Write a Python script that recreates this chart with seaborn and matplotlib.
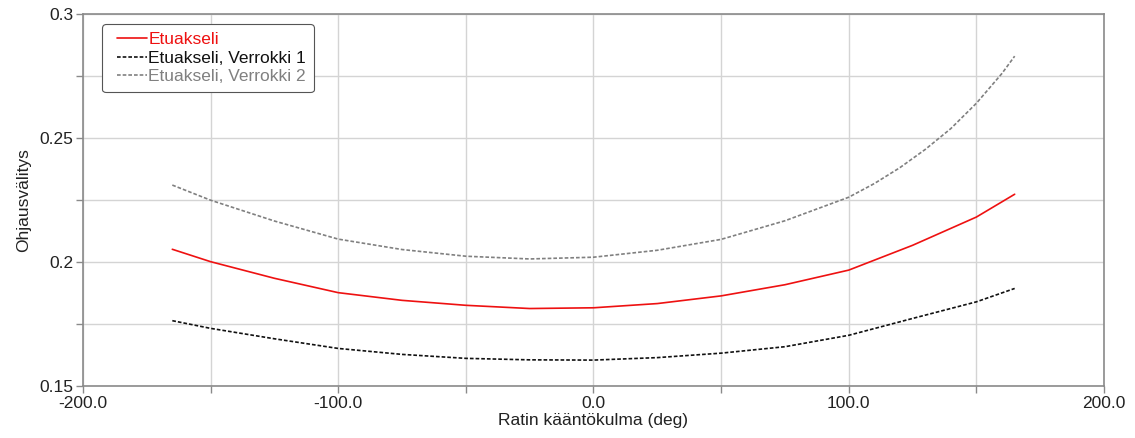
import numpy as np
import pandas as pd
import matplotlib
matplotlib.use("Agg")
import matplotlib.pyplot as plt
import seaborn as sns
from matplotlib.ticker import MultipleLocator, FuncFormatter
from matplotlib.legend_handler import HandlerLine2D

# steering wheel angle (deg) and steering ratio
angle = [-165, -150, -125, -100, -75, -50, -25, 0, 25, 50, 75, 100, 125, 150, 165]
front_axle = [0.2051, 0.2001, 0.1934, 0.1876, 0.1845, 0.1825, 0.1812, 0.1815,
              0.1832, 0.1863, 0.1908, 0.1967, 0.2067, 0.2181, 0.2273]
ref_1 = [0.1763, 0.1732, 0.1690, 0.1651, 0.1627, 0.1611, 0.1605, 0.1604,
         0.1614, 0.1632, 0.1658, 0.1704, 0.1772, 0.1839, 0.1893]
# second reference bends up sharply on the right, so it was read more densely there
angle_2 = [-165, -150, -125, -100, -75, -50, -25, 0, 25, 50, 75, 100,
           110, 120, 130, 140, 150, 160, 165]
ref_2 = [0.2310, 0.2249, 0.2165, 0.2092, 0.2050, 0.2023, 0.2012, 0.2019,
         0.2047, 0.2091, 0.2166, 0.2261, 0.2316, 0.2380, 0.2454, 0.2538,
         0.2640, 0.2760, 0.2830]

labels = ["Etuakseli", "Etuakseli, Verrokki 1", "Etuakseli, Verrokki 2"]
x_label = "Ratin kääntökulma (deg)"
y_label = "Ohjausvälitys"

sns.set_theme(style="whitegrid")
plt.rcParams['font.family'] = ['Liberation Sans', 'DejaVu Sans']

fig = plt.figure(figsize=(11.35, 4.38), dpi=100)
ax = fig.add_axes([0.0731, 0.119, 0.8996, 0.849])

series = [
    (angle, front_axle, labels[0], "#ee1111", "-", None),
    (angle, ref_1, labels[1], "#111111", "--", (2.2, 1.2)),
    (angle_2, ref_2, labels[2], "#808080", "--", (2.2, 1.2)),
]
for xs, vals, lab, col, ls, dash in series:
    df = pd.DataFrame({"x": xs, "y": vals})
    sns.lineplot(data=df, x="x", y="y", ax=ax, color=col, linewidth=1.2,
                 linestyle=ls, label=lab, sort=False)
    if dash is not None:
        ax.lines[-1].set_dashes(dash)

ax.set_xlim(-200, 200)
ax.set_ylim(0.15, 0.3)
ax.xaxis.set_major_locator(MultipleLocator(50))
ax.yaxis.set_major_locator(MultipleLocator(0.025))
ax.xaxis.set_major_formatter(FuncFormatter(
    lambda v, p: f"{v:.1f}" if abs(round(v) % 100) < 1e-6 else ""))
ax.yaxis.set_major_formatter(FuncFormatter(
    lambda v, p: f"{v:g}" if abs(round(v * 1000) % 50) == 0 else ""))

ax.grid(True, color="#d4d4d4", linewidth=1.0)
for s in ax.spines.values():
    s.set_color("#8a8a8a")
    s.set_linewidth(1.2)
ax.tick_params(axis="both", which="major", direction="out", length=5,
               width=1.0, color="#8a8a8a", labelsize=12.5, labelcolor="#222222",
               pad=2, bottom=True, left=True)

ax.set_xlabel(x_label, fontsize=12.5, color="#222222", labelpad=2)
ax.set_ylabel(y_label, fontsize=12.5, color="#222222", labelpad=6)

handles, leg_labels = ax.get_legend_handles_labels()
leg = ax.legend(handles, leg_labels, loc="upper left",
                bbox_to_anchor=(0.019, 0.973), fontsize=12.5,
                frameon=True, fancybox=True, framealpha=1, edgecolor="#555555",
                labelcolor="linecolor", handlelength=2.1, handletextpad=0.1,
                borderpad=0.45, labelspacing=0.2, borderaxespad=0,
                handler_map={h: HandlerLine2D(xpad=0.38) for h in handles})
leg.get_frame().set_linewidth(0.8)

fig.savefig("out.png", dpi=100)
